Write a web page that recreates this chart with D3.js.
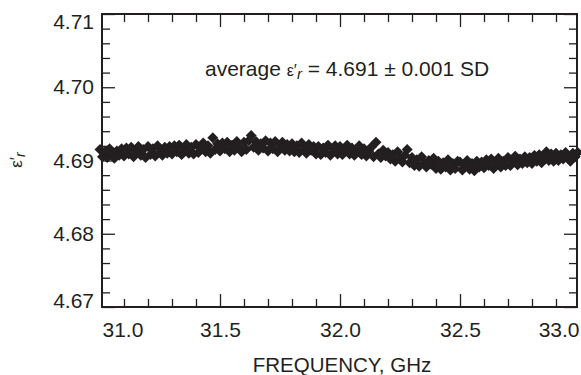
<!DOCTYPE html>
<html>
<head>
<meta charset="utf-8">
<script src="https://cdn.jsdelivr.net/npm/d3@7"></script>
<style>
  body { margin: 0; background: #fff; }
  text { font-family: "Liberation Sans", Arial, sans-serif; fill: #231f20; }
</style>
</head>
<body>
<div class="chart"></div>
<script>
// frequency sweep, GHz
const freq = [
  31.00,31.01,31.02,31.03,31.04,31.05,31.06,31.07,31.08,31.09,
  31.10,31.11,31.12,31.13,31.14,31.15,31.16,31.17,31.18,31.19,
  31.20,31.21,31.22,31.23,31.24,31.25,31.26,31.27,31.28,31.29,
  31.30,31.31,31.32,31.33,31.34,31.35,31.36,31.37,31.38,31.39,
  31.40,31.41,31.42,31.43,31.44,31.45,31.46,31.47,31.48,31.49,
  31.50,31.51,31.52,31.53,31.54,31.55,31.56,31.57,31.58,31.59,
  31.60,31.61,31.62,31.63,31.64,31.65,31.66,31.67,31.68,31.69,
  31.70,31.71,31.72,31.73,31.74,31.75,31.76,31.77,31.78,31.79,
  31.80,31.81,31.82,31.83,31.84,31.85,31.86,31.87,31.88,31.89,
  31.90,31.91,31.92,31.93,31.94,31.95,31.96,31.97,31.98,31.99,
  32.00,32.01,32.02,32.03,32.04,32.05,32.06,32.07,32.08,32.09,
  32.10,32.11,32.12,32.13,32.14,32.15,32.16,32.17,32.18,32.19,
  32.20,32.21,32.22,32.23,32.24,32.25,32.26,32.27,32.28,32.29,
  32.30,32.31,32.32,32.33,32.34,32.35,32.36,32.37,32.38,32.39,
  32.40,32.41,32.42,32.43,32.44,32.45,32.46,32.47,32.48,32.49,
  32.50,32.51,32.52,32.53,32.54,32.55,32.56,32.57,32.58,32.59,
  32.60,32.61,32.62,32.63,32.64,32.65,32.66,32.67,32.68,32.69,
  32.70,32.71,32.72,32.73,32.74,32.75,32.76,32.77,32.78,32.79,
  32.80,32.81,32.82,32.83,32.84,32.85,32.86,32.87,32.88,32.89,
  32.90,32.91,32.92,32.93,32.94,32.95,32.96,32.97,32.98,32.99
];

// measured real permittivity
const eps = [
  4.6915,4.6905,4.6912,4.6904,4.6916,4.6908,4.6903,4.6913,4.6907,4.6916,
  4.6906,4.6917,4.6909,4.6918,4.6905,4.6914,4.6919,4.6907,4.6915,4.6904,
  4.6919,4.6908,4.6916,4.6906,4.6920,4.6911,4.6907,4.6918,4.6910,4.6919,
  4.6909,4.6920,4.6912,4.6921,4.6908,4.6917,4.6922,4.6910,4.6918,4.6909,
  4.6922,4.6911,4.6919,4.6924,4.6912,4.6920,4.6910,4.6931,4.6915,4.6923,
  4.6913,4.6924,4.6916,4.6925,4.6912,4.6921,4.6914,4.6926,4.6917,4.6912,
  4.6925,4.6915,4.6927,4.6934,4.6918,4.6926,4.6914,4.6923,4.6917,4.6927,
  4.6913,4.6924,4.6916,4.6926,4.6912,4.6921,4.6925,4.6914,4.6922,4.6913,
  4.6923,4.6912,4.6920,4.6911,4.6924,4.6915,4.6910,4.6922,4.6914,4.6919,
  4.6909,4.6919,4.6908,4.6917,4.6911,4.6921,4.6907,4.6916,4.6920,4.6909,
  4.6919,4.6908,4.6916,4.6921,4.6909,4.6917,4.6907,4.6914,4.6920,4.6908,
  4.6916,4.6906,4.6913,4.6918,4.6905,4.6925,4.6909,4.6904,4.6914,4.6906,
  4.6911,4.6902,4.6908,4.6899,4.6912,4.6903,4.6898,4.6907,4.6915,4.6897,
  4.6904,4.6893,4.6901,4.6892,4.6905,4.6896,4.6891,4.6900,4.6895,4.6903,
  4.6889,4.6899,4.6888,4.6897,4.6891,4.6901,4.6887,4.6896,4.6889,4.6899,
  4.6898,4.6887,4.6895,4.6900,4.6888,4.6896,4.6886,4.6899,4.6891,4.6898,
  4.6890,4.6901,4.6893,4.6902,4.6889,4.6898,4.6903,4.6891,4.6899,4.6893,
  4.6904,4.6893,4.6901,4.6906,4.6894,4.6902,4.6896,4.6905,4.6897,4.6904,
  4.6896,4.6907,4.6899,4.6908,4.6897,4.6905,4.6912,4.6900,4.6909,4.6899,
  4.6910,4.6900,4.6908,4.6902,4.6911,4.6903,4.6899,4.6910,4.6905,4.6911
];

const xMajor = [31.0, 31.5, 32.0, 32.5, 33.0];
const xMinor = [31.1,31.2,31.3,31.4,31.6,31.7,31.8,31.9,32.1,32.2,32.3,32.4,32.6,32.7,32.8,32.9];
const yMajor = [4.67, 4.68, 4.69, 4.70, 4.71];
const yMinor = [4.672,4.674,4.676,4.678,4.682,4.684,4.686,4.688,4.692,4.694,4.696,4.698,4.702,4.704,4.706,4.708];

const width = 581;
const height = 375;
const plotLeft = 102, plotRight = 577, plotTop = 14, plotBottom = 307;
const ink = "#231f20";

const x = d3.scaleLinear().domain([31.0, 33.0]).range([100, 580]);
const y = d3.scaleLinear().domain([4.67, 4.71]).range([plotBottom, plotTop]);

const data = freq.map((f, i) => ({ f: f, e: eps[i] }));

const svg = d3.select(".chart").append("svg")
  .attr("width", width)
  .attr("height", height);

// points
const diamond = d3.symbol().type(d3.symbolSquare).size(60);
svg.append("g")
  .selectAll("path")
  .data(data).enter()
  .append("path")
    .attr("d", diamond)
    .attr("transform", (d) => `translate(${x(d.f)},${y(d.e)}) rotate(45)`)
    .style("fill", ink);

// axes, ticks pointing inward
function styleAxis(g) {
  g.select(".domain").remove();
  g.selectAll("line").attr("stroke", ink).attr("stroke-width", 1.3);
  g.selectAll("text").attr("font-size", 21).attr("fill", ink);
}

svg.append("g")
  .attr("transform", `translate(${plotLeft},0)`)
  .call(d3.axisLeft(y).tickValues(yMajor).tickSize(-13).tickPadding(8).tickFormat(d3.format(".2f")))
  .call(styleAxis)
  .call((g) => {
    g.attr("font-family", null);
    g.selectAll(".tick").filter((d) => d === 4.71).select("text").attr("dy", "0.68em");
    g.selectAll(".tick").filter((d) => d === 4.67).select("text").attr("dy", "0.02em");
  });
svg.append("g")
  .attr("transform", `translate(${plotLeft},0)`)
  .call(d3.axisLeft(y).tickValues(yMinor).tickSize(-8).tickFormat(""))
  .call(styleAxis);
svg.append("g")
  .attr("transform", `translate(${plotRight},0)`)
  .call(d3.axisRight(y).tickValues(yMajor).tickSize(-13).tickFormat(""))
  .call(styleAxis);
svg.append("g")
  .attr("transform", `translate(${plotRight},0)`)
  .call(d3.axisRight(y).tickValues(yMinor).tickSize(-8).tickFormat(""))
  .call(styleAxis);

svg.append("g")
  .attr("transform", `translate(0,${plotBottom})`)
  .call(d3.axisBottom(x).tickValues(xMajor).tickSize(-13).tickPadding(15).tickFormat(d3.format(".1f")))
  .call(styleAxis)
  .call((g) => {
    g.attr("font-family", null);
    g.selectAll(".tick").filter((d) => d === 31.0).select("text").attr("text-anchor", "start").attr("x", 2);
    g.selectAll(".tick").filter((d) => d === 33.0).select("text").attr("text-anchor", "end").attr("x", -1);
    g.selectAll(".tick").filter((d) => d === 31.0 || d === 33.0).select("line").remove();
  });
svg.append("g")
  .attr("transform", `translate(0,${plotBottom})`)
  .call(d3.axisBottom(x).tickValues(xMinor).tickSize(-8).tickFormat(""))
  .call(styleAxis);
svg.append("g")
  .attr("transform", `translate(0,${plotTop})`)
  .call(d3.axisTop(x).tickValues(xMajor.slice(1, -1)).tickSize(-13).tickFormat(""))
  .call(styleAxis);
svg.append("g")
  .attr("transform", `translate(0,${plotTop})`)
  .call(d3.axisTop(x).tickValues(xMinor).tickSize(-8).tickFormat(""))
  .call(styleAxis);

// frame
svg.append("rect")
  .attr("x", plotLeft).attr("y", plotTop)
  .attr("width", plotRight - plotLeft).attr("height", plotBottom - plotTop)
  .attr("fill", "none")
  .attr("stroke", ink)
  .attr("stroke-width", 2);

// axis titles
svg.append("text")
  .attr("x", 342).attr("y", 372)
  .attr("text-anchor", "middle")
  .attr("font-size", 20.5)
  .text("FREQUENCY, GHz");

const yt = svg.append("text")
  .attr("transform", "translate(22,160) rotate(-90)")
  .attr("text-anchor", "middle")
  .attr("font-size", 17);
yt.append("tspan").text("ε′");
yt.append("tspan").attr("font-style", "italic").attr("font-size", 14).attr("dy", 3).text("r");

// annotation
const note = svg.append("text")
  .attr("x", 205).attr("y", 76)
  .attr("font-size", 21);
note.append("tspan").text("average ");
note.append("tspan").attr("font-size", 16).text("ε′");
note.append("tspan").attr("font-size", 15).attr("font-style", "italic").attr("dy", 3).text("r");
note.append("tspan").attr("dy", -3).text(" = 4.691 ± 0.001 SD");
</script>
</body>
</html>
